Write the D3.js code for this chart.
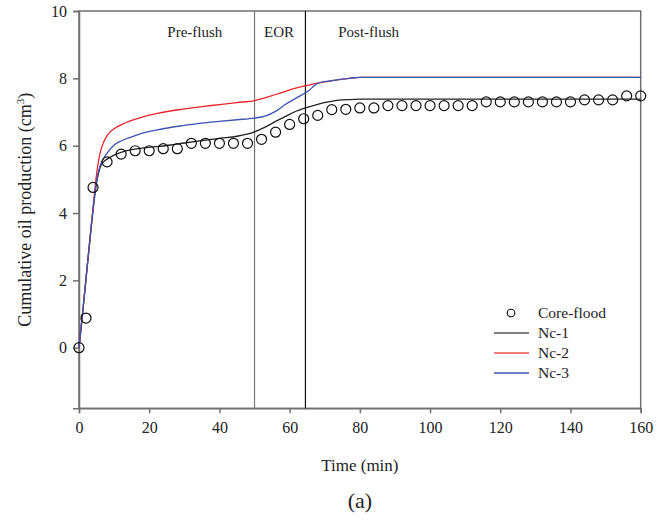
<!DOCTYPE html>
<html>
<head>
<meta charset="utf-8">
<script src="https://cdn.jsdelivr.net/npm/d3@7"></script>
<style>
  body { margin: 0; background: #fff; }
  svg text { font-family: 'Liberation Serif', 'Times New Roman', serif; fill: #222; }
</style>
</head>
<body>
<svg id="chart" width="669" height="520"></svg>
<script>
// core-flood measurements (time, cumulative oil)
const floodTime = [0, 2, 4, 8, 12, 16, 20, 24, 28, 32, 36, 40, 44, 48, 52, 56, 60, 64, 68, 72, 76,
  80, 84, 88, 92, 96, 100, 104, 108, 112, 116, 120, 124, 128, 132, 136, 140, 144, 148, 152, 156, 160]
const floodOil = [0, 0.88, 4.76, 5.52, 5.75, 5.85, 5.85, 5.91, 5.91, 6.07, 6.07, 6.07, 6.07, 6.07, 6.19, 6.40, 6.63, 6.80, 6.90, 7.07, 7.08,
  7.12, 7.12, 7.19, 7.19, 7.19, 7.19, 7.19, 7.19, 7.19, 7.30, 7.30, 7.30, 7.30, 7.30, 7.30, 7.30, 7.36, 7.36, 7.36, 7.48, 7.48]

// simulated curves
const simTime = [0, 1, 2, 3, 4, 5, 6, 7, 8, 10, 12, 15, 18, 22, 26, 30, 35, 40, 45, 50, 53, 56, 59, 62, 65, 68, 71, 74, 77, 80, 100, 120, 140, 160]
const nc1 = [0, 1.0, 2.05, 3.1, 4.1, 4.9, 5.35, 5.52, 5.6, 5.72, 5.8, 5.88, 5.93, 5.97, 6.02, 6.08, 6.15, 6.22, 6.28, 6.41, 6.55, 6.72, 6.88, 7.03, 7.14, 7.23, 7.3, 7.35, 7.37, 7.38, 7.38, 7.38, 7.38, 7.38]
const nc2 = [0, 1.0, 2.05, 3.1, 4.15, 5.15, 5.78, 6.1, 6.3, 6.5, 6.62, 6.75, 6.85, 6.95, 7.03, 7.09, 7.16, 7.22, 7.28, 7.34, 7.42, 7.52, 7.62, 7.72, 7.79, 7.86, 7.91, 7.96, 8.0, 8.03, 8.03, 8.03, 8.03, 8.03]
const nc3 = [0, 1.0, 2.05, 3.1, 4.1, 4.95, 5.4, 5.62, 5.78, 6.02, 6.14, 6.26, 6.37, 6.46, 6.54, 6.6, 6.67, 6.72, 6.77, 6.82, 6.88, 7.02, 7.24, 7.42, 7.6, 7.85, 7.92, 7.96, 8.0, 8.03, 8.03, 8.03, 8.03, 8.03]

const seriesNames = ['Nc-1', 'Nc-2', 'Nc-3']
const seriesColors = ['#222', '#e8262b', '#3a55b4']
const xTicks = [0, 20, 40, 60, 80, 100, 120, 140, 160]
const yTicks = [0, 2, 4, 6, 8, 10]
const phaseBounds = [50, 64.5]
const phaseLabels = [['Pre-flush', 33], ['EOR', 57], ['Post-flush', 82.5]]

const svg = d3.select('#chart')
const x = d3.scaleLinear().domain([0, 160]).range([79, 640.7])
const y = d3.scaleLinear().domain([-1.8, 10]).range([408.3, 11])
const axisColor = '#707070'

// frame
svg.append('rect')
  .attr('x', x(0)).attr('y', y(10))
  .attr('width', x(160) - x(0)).attr('height', y(-1.8) - y(10))
  .attr('fill', 'none').attr('stroke', axisColor).attr('stroke-width', 1.5)

// axes
const xAxis = svg.append('g')
  .attr('transform', `translate(0,${y(-1.8)})`)
  .call(d3.axisBottom(x).tickValues(xTicks).tickSize(5).tickPadding(8))
const yAxis = svg.append('g')
  .attr('transform', `translate(${x(0)},0)`)
  .call(d3.axisLeft(y).tickValues(yTicks).tickSize(6).tickPadding(6))
;[xAxis, yAxis].forEach(g => {
  g.select('.domain').attr('stroke', axisColor).attr('stroke-width', 1.5)
  g.selectAll('.tick line').attr('stroke', axisColor).attr('stroke-width', 1.5)
  g.selectAll('.tick text').attr('font-size', 16).attr('font-family', 'Liberation Serif').attr('fill', '#222')
})

// phase boundaries
svg.selectAll('.phase')
  .data(phaseBounds)
  .join('line')
  .attr('x1', d => x(d)).attr('x2', d => x(d))
  .attr('y1', y(10)).attr('y2', y(-1.8))
  .attr('stroke', (d, i) => i === 0 ? '#777' : '#111')
  .attr('stroke-width', 1.2)

svg.selectAll('.phase-label')
  .data(phaseLabels)
  .join('text')
  .attr('x', d => x(d[1])).attr('y', 37)
  .attr('text-anchor', 'middle')
  .attr('font-size', 15)
  .text(d => d[0])

// simulated lines
const line = d3.line()
  .x(d => x(d[0])).y(d => y(d[1]))
  .curve(d3.curveMonotoneX)
const sims = [nc1, nc2, nc3]
sims.forEach((vals, i) => {
  svg.append('path')
    .datum(simTime.map((t, j) => [t, vals[j]]))
    .attr('d', line)
    .attr('fill', 'none')
    .attr('stroke', seriesColors[i])
    .attr('stroke-width', 1.3)
})

// core-flood points
svg.selectAll('.pt')
  .data(floodTime.map((t, i) => [t, floodOil[i]]))
  .join('circle')
  .attr('cx', d => x(d[0])).attr('cy', d => y(d[1]))
  .attr('r', 5)
  .attr('fill', 'none').attr('stroke', '#111').attr('stroke-width', 1.2)

// legend
const lg = svg.append('g')
lg.append('circle').attr('cx', 511).attr('cy', 313).attr('r', 3.8)
  .attr('fill', 'none').attr('stroke', '#111').attr('stroke-width', 1.1)
lg.append('text').attr('x', 538).attr('y', 318).attr('font-size', 15.5).text('Core-flood')
seriesNames.forEach((name, i) => {
  const yy = 333 + i * 20
  lg.append('line').attr('x1', 494).attr('x2', 529).attr('y1', yy).attr('y2', yy)
    .attr('stroke', i === 0 ? '#555' : seriesColors[i]).attr('stroke-width', 1.3)
    .attr('opacity', i === 1 ? 0.8 : 1)
  lg.append('text').attr('x', 538).attr('y', yy + 5).attr('font-size', 15.5).text(name)
})

// axis titles
svg.append('text')
  .attr('x', x(80)).attr('y', 471)
  .attr('text-anchor', 'middle').attr('font-size', 17)
  .text('Time (min)')
const yt = svg.append('text')
  .attr('transform', `translate(31,${y(4.1)}) rotate(-90)`)
  .attr('text-anchor', 'middle').attr('font-size', 18)
yt.append('tspan').text('Cumulative oil production (cm')
yt.append('tspan').attr('font-size', 11).attr('dy', -7).text('3')
yt.append('tspan').attr('dy', 7).text(')')

svg.append('text')
  .attr('x', x(80)).attr('y', 508)
  .attr('text-anchor', 'middle').attr('font-size', 22)
  .text('(a)')
</script>
</body>
</html>
